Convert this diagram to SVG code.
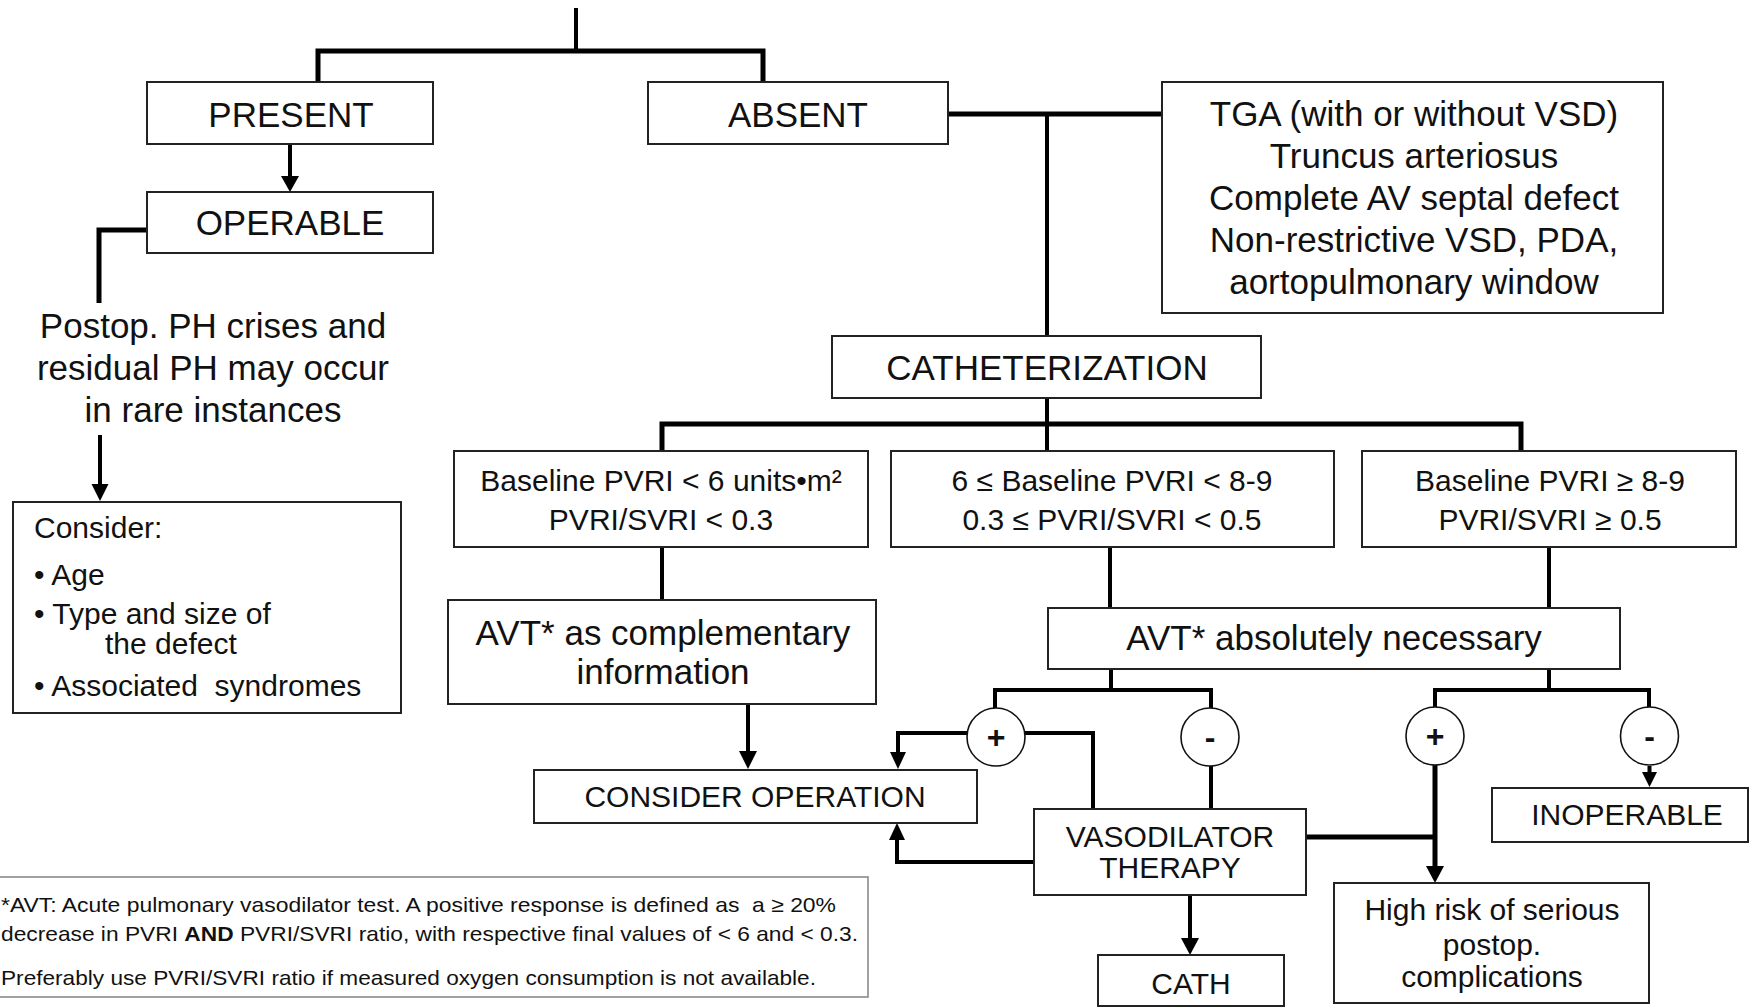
<svg xmlns="http://www.w3.org/2000/svg" width="1751" height="1008" viewBox="0 0 1751 1008">
<style>
.box{fill:#fff;stroke:#222;stroke-width:2}
.fn{fill:#fff;stroke:#8a8a8a;stroke-width:1.6}
.circ{fill:#fff;stroke:#111;stroke-width:1.6}
.c{fill:none;stroke:#000;stroke-width:4;stroke-linejoin:miter;stroke-linecap:butt}
.ct{fill:none;stroke:#000;stroke-width:5;stroke-linejoin:miter}
.ah{fill:#000;stroke:none}
text{font-family:"Liberation Sans",Arial,Helvetica,sans-serif;fill:#111}
.t35{font-size:35px;text-anchor:middle}
.t30{font-size:30px;text-anchor:middle}
.l30{font-size:30px;white-space:pre}
.sym{font-size:32px;font-weight:bold;text-anchor:middle}
.foot{font-size:21px;white-space:pre}
</style>

<g id="connectors">
  <path class="c" d="M576,8 V51"/>
  <path class="ct" d="M318,83 V51 H763 V83"/>
  <path class="c" d="M290,145 V177"/>
  <polygon class="ah" points="281,176 299,176 290,192"/>
  <path class="ct" d="M147,230 H99 V303"/>
  <path class="c" d="M100,435 V485"/>
  <polygon class="ah" points="91.5,484 108.5,484 100,501"/>
  <path class="ct" d="M948,114 H1162"/>
  <path class="c" d="M1047,114 V335"/>
  <path class="c" d="M1047,398 V450"/>
  <path class="ct" d="M662,451 V424 H1521 V451"/>
  <path class="c" d="M662,547 V600"/>
  <path class="c" d="M748,705 V752"/>
  <polygon class="ah" points="739,751 757,751 748,769"/>
  <path class="c" d="M1110,547 V608"/>
  <path class="c" d="M1549,547 V608"/>
  <path class="c" d="M1111,669 V690"/>
  <path class="c" d="M995,709 V690 H1211 V709"/>
  <path class="c" d="M1549,669 V690"/>
  <path class="c" d="M1435,708 V690 H1649 V708"/>
  <path class="c" d="M967,733 H898 V753"/>
  <polygon class="ah" points="890,752 906,752 898,769"/>
  <path class="c" d="M1025,733 H1093 V809"/>
  <path class="c" d="M1211,766 V809"/>
  <path class="c" d="M1034,862 H897 V838"/>
  <polygon class="ah" points="889,840 905,840 897,823"/>
  <path class="ct" d="M1305,837 H1435"/>
  <path class="ct" d="M1435,765 V868"/>
  <polygon class="ah" points="1426,866 1444,866 1435,883"/>
  <path class="c" d="M1649.5,766 V773"/>
  <polygon class="ah" points="1642,772 1657,772 1649.5,787"/>
  <path class="c" d="M1190,895 V939"/>
  <polygon class="ah" points="1181,938 1199,938 1190,955"/>
</g>

<g id="present">
  <rect class="box" x="147" y="82" width="286" height="62"/>
  <text class="t35" x="291" y="127">PRESENT</text>
</g>
<g id="absent">
  <rect class="box" x="648" y="82" width="300" height="62"/>
  <text class="t35" x="798" y="127">ABSENT</text>
</g>
<g id="operable">
  <rect class="box" x="147" y="192" width="286" height="61"/>
  <text class="t35" x="290" y="235">OPERABLE</text>
</g>
<g id="postop-note">
  <text class="t35" x="213" y="338">Postop. PH crises and</text>
  <text class="t35" x="213" y="380">residual PH may occur</text>
  <text class="t35" x="213" y="422">in rare instances</text>
</g>
<g id="consider">
  <rect class="box" x="13" y="502" width="388" height="211"/>
  <text class="l30" x="34" y="538">Consider:</text>
  <text class="l30" x="34" y="585">• Age</text>
  <text class="l30" x="34" y="624">• Type and size of</text>
  <text class="l30" x="105" y="654">the defect</text>
  <text class="l30" x="34" y="696">• Associated  syndromes</text>
</g>
<g id="tga">
  <rect class="box" x="1162" y="82" width="501" height="231"/>
  <text class="t35" x="1414" y="126">TGA (with or without VSD)</text>
  <text class="t35" x="1414" y="168">Truncus arteriosus</text>
  <text class="t35" x="1414" y="210">Complete AV septal defect</text>
  <text class="t35" x="1414" y="252">Non-restrictive VSD, PDA,</text>
  <text class="t35" x="1414" y="294">aortopulmonary window</text>
</g>
<g id="catheterization">
  <rect class="box" x="832" y="336" width="429" height="62"/>
  <text class="t35" x="1047" y="380">CATHETERIZATION</text>
</g>
<g id="pvri-low">
  <rect class="box" x="454" y="451" width="414" height="96"/>
  <text class="t30" x="661" y="491">Baseline PVRI &lt; 6 units•m²</text>
  <text class="t30" x="661" y="530">PVRI/SVRI &lt; 0.3</text>
</g>
<g id="pvri-mid">
  <rect class="box" x="891" y="451" width="443" height="96"/>
  <text class="t30" x="1112" y="491">6 ≤ Baseline PVRI &lt; 8-9</text>
  <text class="t30" x="1112" y="530">0.3 ≤ PVRI/SVRI &lt; 0.5</text>
</g>
<g id="pvri-high">
  <rect class="box" x="1362" y="451" width="374" height="96"/>
  <text class="t30" x="1550" y="491">Baseline PVRI ≥ 8-9</text>
  <text class="t30" x="1550" y="530">PVRI/SVRI ≥ 0.5</text>
</g>
<g id="avt-complementary">
  <rect class="box" x="448" y="600" width="428" height="104"/>
  <text class="t35" x="663" y="645">AVT* as complementary</text>
  <text class="t35" x="663" y="684">information</text>
</g>
<g id="avt-necessary">
  <rect class="box" x="1048" y="608" width="572" height="61"/>
  <text class="t35" x="1334" y="650">AVT* absolutely necessary</text>
</g>
<g id="plus-1">
  <circle class="circ" cx="996" cy="737" r="29"/>
  <text class="sym" x="996" y="748">+</text>
</g>
<g id="minus-1">
  <circle class="circ" cx="1210" cy="737" r="29"/>
  <text class="sym" x="1210" y="748">-</text>
</g>
<g id="plus-2">
  <circle class="circ" cx="1435" cy="736" r="29"/>
  <text class="sym" x="1435" y="747">+</text>
</g>
<g id="minus-2">
  <circle class="circ" cx="1649.5" cy="736" r="29"/>
  <text class="sym" x="1649.5" y="747">-</text>
</g>
<g id="consider-operation">
  <rect class="box" x="534" y="770" width="443" height="53"/>
  <text class="t30" x="755" y="807">CONSIDER OPERATION</text>
</g>
<g id="vasodilator">
  <rect class="box" x="1034" y="809" width="272" height="86"/>
  <text class="t30" x="1170" y="847">VASODILATOR</text>
  <text class="t30" x="1170" y="878">THERAPY</text>
</g>
<g id="cath">
  <rect class="box" x="1098" y="955" width="186" height="51"/>
  <text class="t30" x="1191" y="994">CATH</text>
</g>
<g id="inoperable">
  <rect class="box" x="1492" y="788" width="256" height="54"/>
  <text class="t30" x="1627" y="825">INOPERABLE</text>
</g>
<g id="high-risk">
  <rect class="box" x="1334" y="883" width="315" height="120"/>
  <text class="t30" x="1492" y="920">High risk of serious</text>
  <text class="t30" x="1492" y="955">postop.</text>
  <text class="t30" x="1492" y="987">complications</text>
</g>
<g id="footnote">
  <rect class="fn" x="-5" y="877" width="873" height="120"/>
  <text class="foot" x="1" y="912" textLength="835" lengthAdjust="spacingAndGlyphs">*AVT: Acute pulmonary vasodilator test. A positive response is defined as  a ≥ 20%</text>
  <text class="foot" x="1" y="941" textLength="857" lengthAdjust="spacingAndGlyphs">decrease in PVRI <tspan font-weight="bold">AND</tspan> PVRI/SVRI ratio, with respective final values of &lt; 6 and &lt; 0.3.</text>
  <text class="foot" x="1" y="985" textLength="815" lengthAdjust="spacingAndGlyphs">Preferably use PVRI/SVRI ratio if measured oxygen consumption is not available.</text>
</g>
</svg>
